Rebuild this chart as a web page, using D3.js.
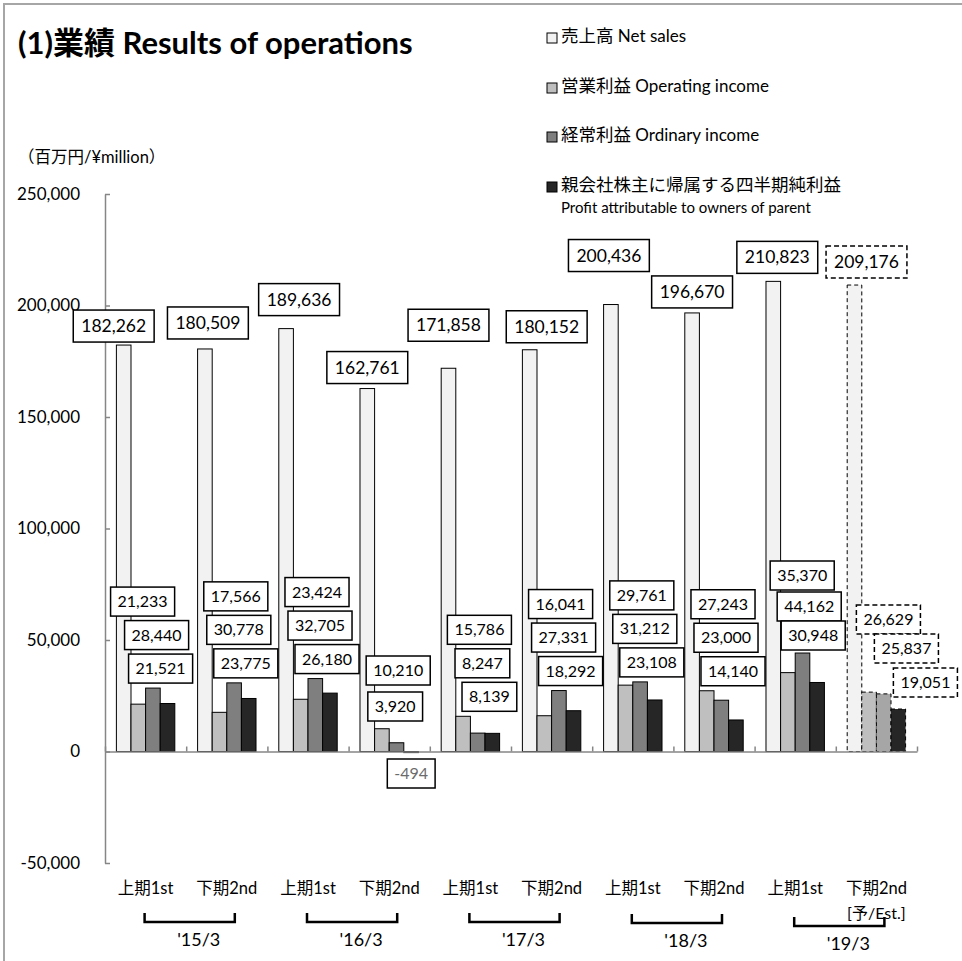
<!DOCTYPE html>
<html>
<head>
<meta charset="utf-8">
<script src="https://cdn.jsdelivr.net/npm/d3@7"></script>
<style>
  body { margin: 0; background: #fff; }
  text { font-family: Lato, "Noto Sans CJK JP", sans-serif; fill: #000; }
</style>
</head>
<body>
<svg id="chart" width="962" height="961"></svg>
<script>
// half-year periods
const halves = ["上期1st", "下期2nd", "上期1st", "下期2nd", "上期1st", "下期2nd", "上期1st", "下期2nd", "上期1st", "下期2nd"];
const years = ["'15/3", "'16/3", "'17/3", "'18/3", "'19/3"];
const isEstimate = [false, false, false, false, false, false, false, false, false, true];

// values, million yen
const netSales = [182262, 180509, 189636, 162761, 171858, 180152, 200436, 196670, 210823, 209176];
const opIncome = [21233, 17566, 23424, 10210, 15786, 16041, 29761, 27243, 35370, 26629];
const ordIncome = [28440, 30778, 32705, 3920, 8247, 27331, 31212, 23000, 44162, 25837];
const profit = [21521, 23775, 26180, -494, 8139, 18292, 23108, 14140, 30948, 19051];

const yTicks = [-50000, 0, 50000, 100000, 150000, 200000, 250000];
const seriesKeys = ["net", "op", "ord", "prof"];
const legendJa = ["売上高", "営業利益", "経常利益", "親会社株主に帰属する四半期純利益"];
const legendEn = ["Net sales", "Operating income", "Ordinary income", ""];
const legendEn2 = "Profit attributable to owners of parent";

const colors = { net: "#f2f2f2", op: "#bfbfbf", ord: "#7f7f7f", prof: "#262626" };
const estColors = { net: "#f2f2f2", op: "#bfbfbf", ord: "#a6a6a6", prof: "#262626" };

// label placement nudges (px): net sales label [dx from bar centre, gap above bar]
const netNudge = [[-10, 3], [3, 10], [13, 13], [0, 5], [0, 27], [17, 7], [-2, 33], [0, 5], [4, 8], [12, 7]];
// profit labels are stacked above the tallest bar; these categories were moved by hand
// [dx from category centre, dy of box centre from zero line]
const stackDx = [9, 12, 19];
const manualLabels = {
  0: [[-3, null], [11, null], [15, null]],
  3: [[9, -81], [6, -45], [22, 22]],
  8: [[7, -176], [14, -145], [18, -116]],
  9: [[12, -132], [30, -103], [49, -69]]
};

const svg = d3.select("#chart");

// frame
svg.append("path").attr("d", "M4,961V4H962").attr("fill", "none").attr("stroke", "#a6a6a6").attr("stroke-width", 2);

const x0 = d3.scaleBand().domain(d3.range(halves.length)).range([105, 917]);
const x1 = d3.scaleBand().domain(seriesKeys).range([0, x0.bandwidth()]).paddingInner(0).paddingOuter(0.78);
const y = d3.scaleLinear().domain([-50000, 250000]).range([863, 194]);
const fmt = d => d3.format(",")(d).replace("\u2212", "-");

// title
svg.append("text").attr("x", 18).attr("y", 54)
  .attr("font-size", 31).attr("font-weight", "bold")
  .text("(1)業績 Results of operations");

svg.append("text").attr("x", 18).attr("y", 163).attr("font-size", 16.5)
  .text("（百万円/¥million）");

// y axis
const yAxis = svg.append("g").attr("transform", "translate(105,0)")
  .call(d3.axisLeft(y).tickValues(yTicks).tickSize(-5).tickSizeOuter(0).tickPadding(25).tickFormat(fmt));
yAxis.selectAll("path, line").attr("stroke", "#868686").attr("stroke-width", 1.5);
yAxis.selectAll("text").attr("font-size", 17).attr("font-family", null).attr("fill", "#000");

// bars
const rows = halves.map((h, i) => ({
  i, est: isEstimate[i],
  net: netSales[i], op: opIncome[i], ord: ordIncome[i], prof: profit[i]
}));

const groups = svg.append("g").selectAll("g").data(rows).enter().append("g")
  .attr("transform", d => "translate(" + x0(d.i) + ",0)");

groups.selectAll("rect")
  .data(d => seriesKeys.map(k => ({ key: k, value: d[k], est: d.est })))
  .enter().append("rect")
  .attr("x", d => x1(d.key))
  .attr("width", x1.bandwidth())
  .attr("y", d => y(Math.max(0, d.value)))
  .attr("height", d => Math.abs(y(d.value) - y(0)))
  .attr("fill", d => d.est ? estColors[d.key] : colors[d.key])
  .attr("stroke", "#000")
  .attr("stroke-width", 1)
  .attr("stroke-dasharray", d => d.est ? "4,3" : null);

// x axis with upward ticks on category boundaries
const xEdge = d3.scaleLinear().domain([0, halves.length]).range([105, 917]);
const xAxis = svg.append("g").attr("transform", "translate(0," + y(0) + ")")
  .call(d3.axisTop(xEdge).tickValues(d3.range(halves.length + 1)).tickSize(5).tickSizeOuter(0).tickFormat(""));
xAxis.selectAll("path, line").attr("stroke", "#868686").attr("stroke-width", 1.5);

// boxed data labels
const labels = svg.append("g");
function boxLabel(cx, cy, txt, size, h, pad, dashed, color) {
  const g = labels.append("g");
  const r = g.append("rect");
  const t = g.append("text").attr("x", cx).attr("y", cy).attr("dy", "0.35em")
    .attr("text-anchor", "middle").attr("font-size", size).text(txt);
  if (color) t.style("fill", color);
  const w = t.node().getComputedTextLength() + 2 * pad;
  r.attr("x", cx - w / 2).attr("y", cy - h / 2).attr("width", w).attr("height", h)
    .attr("fill", "#fff").attr("stroke", "#000").attr("stroke-width", 1.5)
    .attr("stroke-dasharray", dashed ? "5,3" : null);
}

rows.forEach(d => {
  const cc = x0(d.i) + x0.bandwidth() / 2;
  // net sales
  const nx = x0(d.i) + x1("net") + x1.bandwidth() / 2 + netNudge[d.i][0];
  const ny = y(d.net) - netNudge[d.i][1] - 16;
  boxLabel(nx, ny, fmt(d.net), 17.5, 32, 8, d.est);

  // profit labels
  const vals = [d.op, d.ord, d.prof];
  const top = y(d3.max(vals));
  const man = manualLabels[d.i];
  vals.forEach((v, j) => {
    let dx = stackDx[j];
    let cy = top - 5 - 14.5 - 33.5 * (2 - j);
    if (man) {
      dx = man[j][0];
      if (man[j][1] !== null) cy = y(0) + man[j][1];
    }
    boxLabel(cc + dx, cy, fmt(v), 16, 29, 7, d.est, v < 0 ? "#6b6b6b" : null);
  });
});

// category labels
svg.append("g").selectAll("text").data(halves).enter().append("text")
  .attr("x", (d, i) => x0(i) + x0.bandwidth() / 2)
  .attr("y", 894)
  .attr("text-anchor", "middle").attr("font-size", 16.5)
  .text(d => d);

svg.append("text")
  .attr("x", x0(9) + x0.bandwidth() / 2).attr("y", 919)
  .attr("text-anchor", "middle").attr("font-size", 16)
  .text("[予/Est.]");

// fiscal year brackets
const bracketDy = [0, 0, 0, 1, 4];
years.forEach((yr, g) => {
  const a = x0(2 * g) + x0.bandwidth() / 2 - 1;
  const b = x0(2 * g + 1) + x0.bandwidth() / 2 + 8;
  const by = 922 + bracketDy[g];
  svg.append("path")
    .attr("d", "M" + a + "," + (by - 9) + "V" + by + "H" + b + "V" + (by - 9))
    .attr("fill", "none").attr("stroke", "#000").attr("stroke-width", 2.5);
  svg.append("text")
    .attr("x", (a + b) / 2 + 9).attr("y", 946 + bracketDy[g])
    .attr("text-anchor", "middle").attr("font-size", 18)
    .text(yr);
});

// legend
const legendY = [42, 92, 141, 191];
const legend = svg.append("g");
seriesKeys.forEach((k, i) => {
  legend.append("rect").attr("x", 547).attr("y", legendY[i] - 9).attr("width", 10).attr("height", 10)
    .attr("fill", colors[k]).attr("stroke", "#000").attr("stroke-width", 1);
  const t = legend.append("text").attr("x", 561).attr("y", legendY[i]).attr("font-size", 17);
  t.append("tspan").attr("font-size", 17.5).text(legendJa[i]);
  if (legendEn[i]) t.append("tspan").text(" " + legendEn[i]);
});
legend.append("text").attr("x", 561).attr("y", 213).attr("font-size", 15).text(legendEn2);
</script>
</body>
</html>
